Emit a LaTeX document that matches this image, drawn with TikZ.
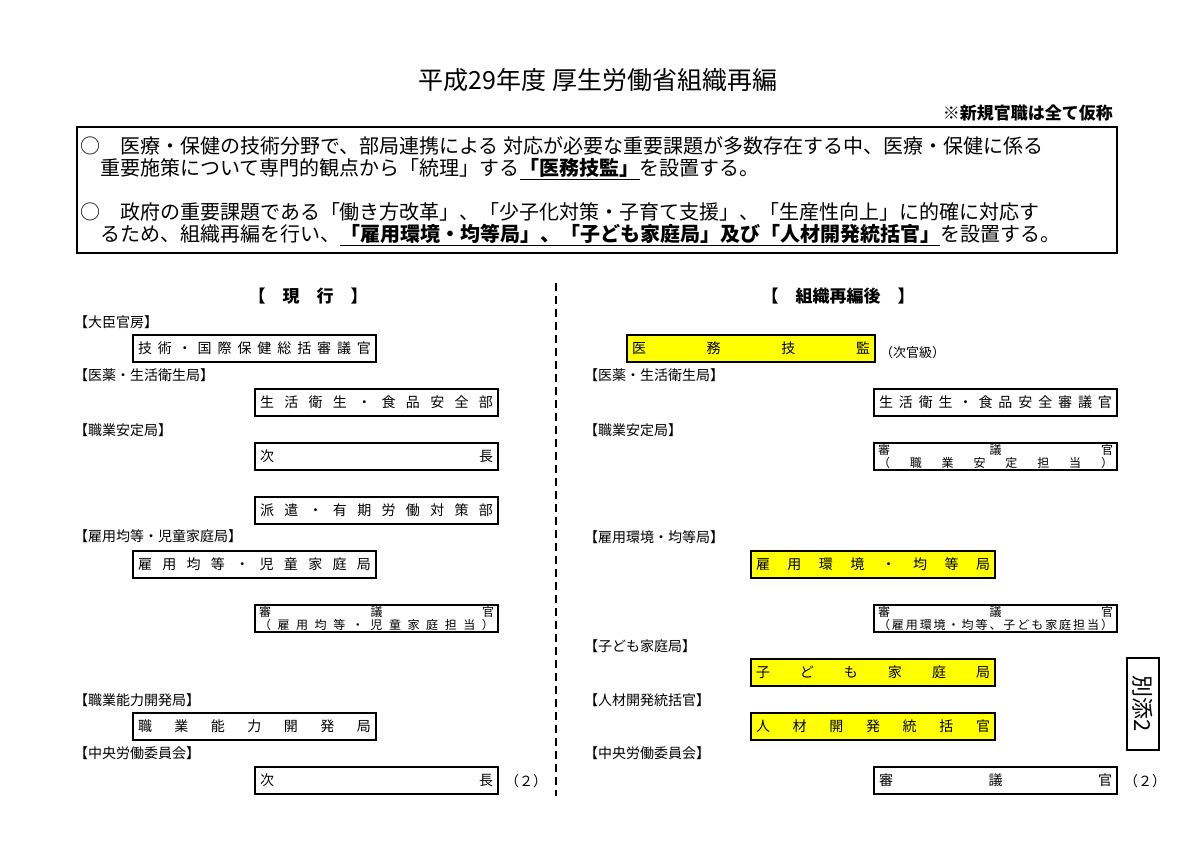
\documentclass[tikz,border=0pt]{standalone}
\usepackage{fontspec}
\setmainfont{Noto Sans CJK JP}
\newcommand\fs[1]{\fontsize{#1pt}{#1pt}\selectfont}
\makeatletter
\def\spr#1{\spr@#1\@nil}
\def\spr@#1#2\@nil{#1\ifx\relax#2\relax\else\hfill\spr@#2\@nil\fi}
\makeatother
\newcommand\spreadbox[2]{\hbox to #1{\spr{#2}}}
\newcommand\twoline[3]{\vbox{\fs{12}\baselineskip=12.5pt\hbox to #1{\spr{#2}}\hbox to #1{\spr{#3}}}}
\newsavebox\ulbox
\newcommand\ulb[1]{\sbox\ulbox{\bfseries #1}\rlap{\rule[-5pt]{\wd\ulbox}{1.3pt}}\usebox\ulbox}
\definecolor{boxyellow}{RGB}{255,255,0}
\begin{document}
\begin{tikzpicture}[x=1pt,y=-1pt,
  orgbox/.style={draw, line width=1.5pt, inner sep=0pt, minimum height=27pt, font=\fs{14}},
  yelbox/.style={orgbox, fill=boxyellow},
  catlabel/.style={anchor=west, inner sep=0pt, font=\fs{14}},
  descline/.style={anchor=west, inner sep=0pt, font=\fs{20}},
  heading/.style={inner sep=0pt, font=\fs{17}\bfseries},
  divider/.style={line width=2.6pt, dash pattern=on 8pt off 5pt},
  note/.style={anchor=west, inner sep=0pt, font=\fs{14}}
]
\useasboundingbox (0,0) rectangle (1200,849);

% title
\node[inner sep=0pt, font=\fs{25}] (title) at (598,80) {平成29年度 厚生労働省組織再編};
\node[anchor=east, inner sep=0pt, font=\fs{17}\bfseries] (tmp) at (1113,113) {※新規官職は全て仮称};

% description box
\node[draw, line width=1.6pt, minimum width=1040pt, minimum height=126pt, inner sep=0pt] (desc) at (597,190) {};
\node[descline] (t1) at (80,146) {○　医療・保健の技術分野で、部局連携による 対応が必要な重要課題が多数存在する中、医療・保健に係る};
\node[descline] (t2) at (100,169) {重要施策について専門的観点から「統理」する\ulb{「医務技監」}を設置する。};
\node[descline] (t3) at (80,212) {○　政府の重要課題である「働き方改革」、「少子化対策・子育て支援」、「生産性向上」に的確に対応す};
\node[descline] (t4) at (100,235) {るため、組織再編を行い、\ulb{「雇用環境・均等局」、「子ども家庭局」及び「人材開発統括官」}を設置する。};

% divider
\coordinate (dtop) at (556,283);
\coordinate (dbot) at (556,796);
\draw[divider] (dtop) -- (dbot);

% headings
\node[heading] (hl) at (308,296) {【　現　行　】};
\node[heading] (hr) at (838,296) {【　組織再編後　】};

% left column
\node[catlabel] (cl1) at (74,322) {【大臣官房】};
\node[orgbox, minimum width=243pt] (L1) at (254.5,348.5) {\spreadbox{233pt}{技術・国際保健総括審議官}};
\node[catlabel] (cl2) at (74,375) {【医薬・生活衛生局】};
\node[orgbox, minimum width=243pt] (L2) at (376.5,402.5) {\spreadbox{233pt}{生活衛生・食品安全部}};
\node[catlabel] (cl3) at (74,430) {【職業安定局】};
\node[orgbox, minimum width=243pt] (L3) at (376.5,456.5) {\spreadbox{233pt}{次長}};
\node[orgbox, minimum width=243pt] (L4) at (376.5,510.5) {\spreadbox{233pt}{派遣・有期労働対策部}};
\node[catlabel] (cl4) at (74,536) {【雇用均等・児童家庭局】};
\node[orgbox, minimum width=243pt] (L5) at (254.5,564.5) {\spreadbox{233pt}{雇用均等・児童家庭局}};
\node[orgbox, minimum width=243pt] (L6) at (376.5,618.5) {\twoline{235pt}{審議官}{（雇用均等・児童家庭担当）}};
\node[catlabel] (cl5) at (74,700) {【職業能力開発局】};
\node[orgbox, minimum width=243pt] (L7) at (254.5,726.5) {\spreadbox{233pt}{職業能力開発局}};
\node[catlabel] (cl6) at (74,753) {【中央労働委員会】};
\node[orgbox, minimum width=243pt] (L8) at (376.5,780.5) {\spreadbox{233pt}{次長}};
\node[note] (n2l) at (505,781) {（２）};

% right column
\node[yelbox, minimum width=248pt] (R1) at (751,348.5) {\spreadbox{238pt}{医務技監}};
\node[note, font=\fs{13}] (jk) at (880,353) {（次官級）};
\node[catlabel] (cr1) at (584,375) {【医薬・生活衛生局】};
\node[orgbox, minimum width=243pt] (R2) at (995.5,402.5) {\spreadbox{233pt}{生活衛生・食品安全審議官}};
\node[catlabel] (cr2) at (584,430) {【職業安定局】};
\node[orgbox, minimum width=243pt] (R3) at (995.5,456.5) {\twoline{235pt}{審議官}{（職業安定担当）}};
\node[catlabel] (cr3) at (584,537) {【雇用環境・均等局】};
\node[yelbox, minimum width=244pt] (R4) at (873,564.5) {\spreadbox{234pt}{雇用環境・均等局}};
\node[orgbox, minimum width=243pt] (R5) at (995.5,618.5) {\twoline{235pt}{審議官}{（雇用環境・均等、子ども家庭担当）}};
\node[catlabel] (cr4) at (584,646) {【子ども家庭局】};
\node[yelbox, minimum width=244pt] (R6) at (873,672.5) {\spreadbox{234pt}{子ども家庭局}};
\node[catlabel] (cr5) at (584,700) {【人材開発統括官】};
\node[yelbox, minimum width=244pt] (R7) at (873,726.5) {\spreadbox{234pt}{人材開発統括官}};
\node[catlabel] (cr6) at (584,753) {【中央労働委員会】};
\node[orgbox, minimum width=243pt] (R8) at (995.5,780.5) {\spreadbox{233pt}{審議官}};
\node[note] (n2r) at (1124,781) {（２）};

% attachment label
\node[draw, line width=1.3pt, rotate=-90, minimum width=92pt, minimum height=32pt, inner sep=0pt, font=\fs{22}] (bt) at (1143,704) {別添2};
\end{tikzpicture}
\end{document}
